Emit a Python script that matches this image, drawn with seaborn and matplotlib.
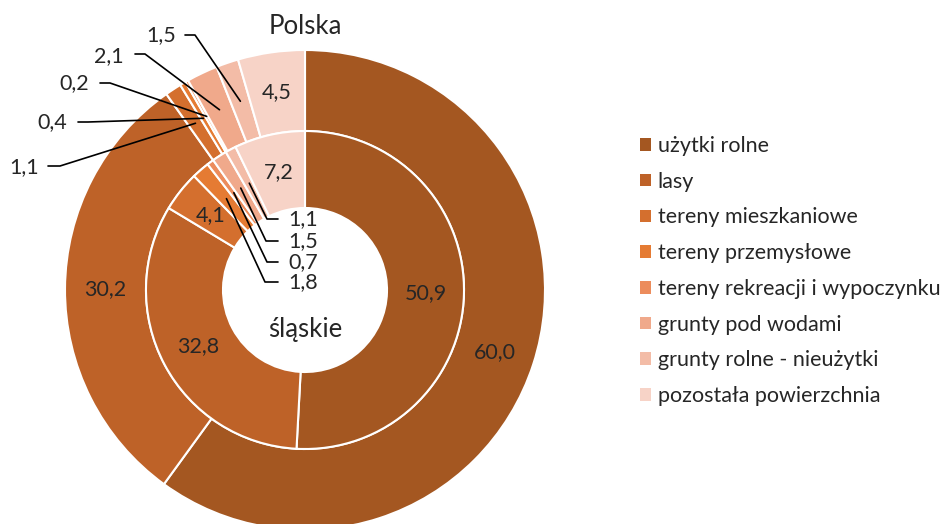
import numpy as np
import seaborn as sns
import matplotlib.pyplot as plt
from matplotlib.patches import Patch

sns.set_theme(style="white")
plt.rcParams['font.family'] = ['Lato', 'DejaVu Sans']

# data
categories = ["użytki rolne", "lasy", "tereny mieszkaniowe", "tereny przemysłowe",
              "tereny rekreacji i wypoczynku", "grunty pod wodami",
              "grunty rolne - nieużytki", "pozostała powierzchnia"]
polska = [60.0, 30.2, 1.1, 0.4, 0.2, 2.1, 1.5, 4.5]
slaskie = [50.9, 32.8, 4.1, 1.8, 0.7, 1.5, 1.1, 7.2]
colors = ["#A45721", "#BE6228", "#D46F2E", "#E57B33", "#EC8C5C",
          "#F0A98B", "#F3BCA7", "#F7D3C7"]

# layout (pixels -> data units, pie radius 240 px)
W, H = 949, 524
cx, cy, R = 305, 290, 240
r_in_outer = 159 / R
r_hole = 82 / R


def px(x, y):
    return (x - cx) / R, (cy - y) / R


fig = plt.figure(figsize=(W / 100, H / 100), dpi=100)
ax = fig.add_axes([0, 0, 1, 1])

wp = dict(edgecolor='white', linewidth=1.5)
ax.pie(polska, radius=1.0, colors=colors, startangle=90, counterclock=False,
       wedgeprops=dict(width=1 - r_in_outer, **wp))
ax.pie(slaskie, radius=r_in_outer, colors=colors, startangle=90, counterclock=False,
       wedgeprops=dict(width=r_in_outer - r_hole, **wp))

ax.set_xlim(-cx / R, (W - cx) / R)
ax.set_ylim(-(H - cy) / R, cy / R)
ax.set_aspect('equal', adjustable='datalim')
ax.axis('off')


def mid_point(values, i, r):
    cum = np.cumsum([0] + list(values))
    ang = np.deg2rad(90 - (cum[i] + values[i] / 2) * 3.6)
    return r * np.cos(ang), r * np.sin(ang)


def fmt(v):
    return f"{v:.1f}".replace(".", ",")


fs = 15.5
r_mid_out = (1 + r_in_outer) / 2
r_mid_in = (r_in_outer + r_hole) / 2

# labels inside the big wedges
for i in [0, 1, 7]:
    x, y = mid_point(polska, i, r_mid_out)
    ax.text(x, y, fmt(polska[i]), ha='center', va='center', fontsize=fs)
for i in [0, 1, 2, 7]:
    x, y = mid_point(slaskie, i, r_mid_in)
    ax.text(x, y, fmt(slaskie[i]), ha='center', va='center', fontsize=fs)

# leader-line labels, outer ring: (index, text anchor px, elbow px, line end px)
outer_lead = [(6, (146, 35), (195, 35), (185, 35)),
              (5, (94, 56), (145, 54), (135, 54)),
              (4, (59, 83), (110, 83), (100, 83)),
              (3, (37, 122), (88, 122), (78, 122)),
              (2, (9, 167), (60, 166), (48, 166))]
for i, tpos, elbow, end in outer_lead:
    sx, sy = mid_point(polska, i, r_mid_out)
    ex, ey = px(*elbow)
    fx, fy = px(*end)
    ax.plot([sx, ex, fx], [sy, ey, fy], color='black', lw=1.2)
    tx, ty = px(*tpos)
    ax.text(tx, ty, fmt(polska[i]), ha='left', va='center', fontsize=fs)

# leader-line labels, inner ring
inner_lead = [(6, (288, 219), (267, 219)),
              (5, (288, 241), (266, 241)),
              (4, (288, 262), (267, 262)),
              (3, (288, 282), (265, 282))]
for i, tpos, elbow in inner_lead:
    sx, sy = mid_point(slaskie, i, r_mid_in)
    ex, ey = px(*elbow)
    fx, fy = px(278, elbow[1])
    ax.plot([sx, ex, fx], [sy, ey, fy], color='black', lw=1.2)
    tx, ty = px(*tpos)
    ax.text(tx, ty, fmt(slaskie[i]), ha='left', va='center', fontsize=fs)

# ring titles
ax.text(*px(305, 27), "Polska", ha='center', va='center', fontsize=18.5)
ax.text(*px(305, 330), "śląskie", ha='center', va='center', fontsize=18.5)

handles = [Patch(facecolor=c, edgecolor='none') for c in colors]
fig.legend(handles, categories, loc='upper left', bbox_to_anchor=(640 / W, 1 - 136 / H),
           frameon=False, fontsize=15.5, handlelength=0.52, handleheight=0.52,
           handletextpad=0.3, labelspacing=0.73, borderaxespad=0, borderpad=0)

fig.savefig("out.png", dpi=100)
